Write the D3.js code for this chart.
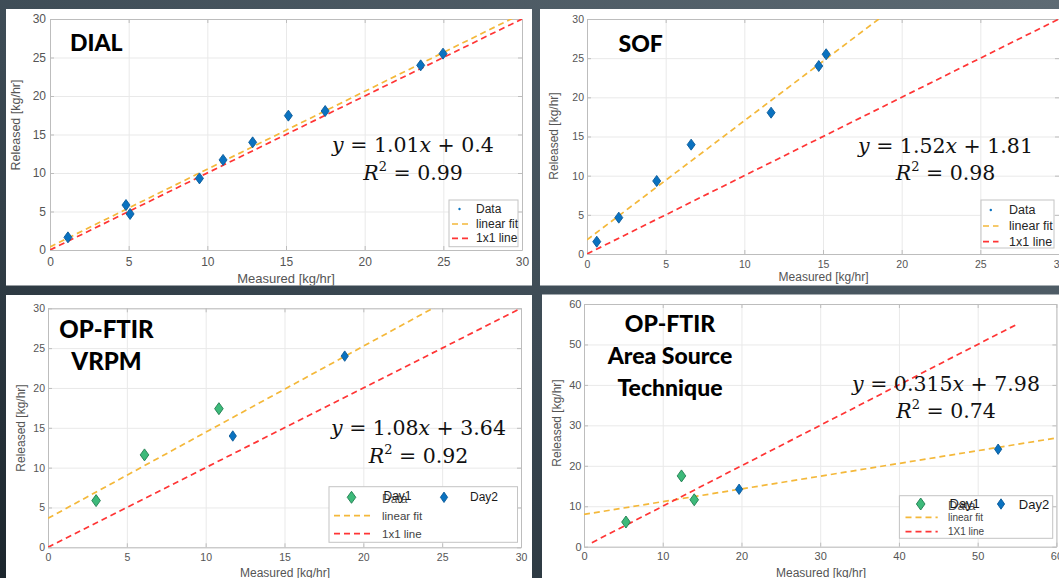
<!DOCTYPE html>
<html><head><meta charset="utf-8">
<script src="https://cdn.jsdelivr.net/npm/d3@7"></script>
<style>body{margin:0;overflow:hidden;background:#333}</style>
</head><body>
<svg id="c" width="1059" height="578"></svg>
<script>
// ---- tick labels ----
const ticks30 = [0, 5, 10, 15, 20, 25, 30];
const ticks60 = [0, 10, 20, 30, 40, 50, 60];

// ---- DIAL ----
const dialMeasured = [1.14, 4.83, 5.09, 9.5, 11.0, 12.88, 15.15, 17.49, 23.56, 24.98];
const dialReleased = [1.64, 5.84, 4.68, 9.3, 11.7, 13.98, 17.45, 18.05, 23.98, 25.5];
const dialFit = [1.01, 0.4];

// ---- SOF ----
const sofMeasured = [0.62, 2.02, 4.43, 6.62, 11.7, 14.73, 15.2];
const sofReleased = [1.57, 4.64, 9.32, 13.96, 18.04, 24.0, 25.5];
const sofFit = [1.52, 1.81];

// ---- OP-FTIR VRPM ----
const vrpmDay1Measured = [3.05, 6.12, 10.84];
const vrpmDay1Released = [5.86, 11.6, 17.4];
const vrpmDay2Measured = [11.72, 18.82];
const vrpmDay2Released = [13.97, 24.0];
const vrpmFit = [1.08, 3.64];

// ---- OP-FTIR Area Source ----
const areaDay1Measured = [5.33, 12.38, 14.0];
const areaDay1Released = [6.1, 17.5, 11.6];
const areaDay2Measured = [19.7, 52.6];
const areaDay2Released = [14.2, 24.1];
const areaFit = [0.315, 7.98];
const areaOneToOneRange = [1, 55];

const C = {
  blue: '#0a72c0', blueEdge: '#0b5a98',
  green: '#3dba7a', greenEdge: '#1f7d4f',
  orange: '#f4b83a', red: '#ff3535',
  grid: '#e9e9e9', axis: '#bdbdbd', tick: '#555', label: '#555'
};

const svg = d3.select('#c');
const defs = svg.append('defs');
const grad = defs.append('linearGradient').attr('id', 'bg')
  .attr('x1', '0').attr('y1', '1').attr('x2', '1').attr('y2', '0');
grad.append('stop').attr('offset', '0').attr('stop-color', '#1c262d');
grad.append('stop').attr('offset', '0.45').attr('stop-color', '#3c4a54');
grad.append('stop').attr('offset', '1').attr('stop-color', '#5e6b74');
svg.append('rect').attr('width', 1059).attr('height', 578).attr('fill', 'url(#bg)');

const SANS = 'Liberation Sans, Arial, sans-serif';
const SERIF = 'DejaVu Serif, serif';
const TITLE = 'Lato, Open Sans, sans-serif';

function diamondPath(w, h) {
  return `M0,${-h}L${w},0L0,${h}L${-w},0Z`;
}

const panels = [
  {
    id: 'dial', box: [6, 9, 532, 285.5], xr: [50, 522], yr: [250, 19],
    xdom: [0, 30], ydom: [0, 30], xt: ticks30, yt: ticks30,
    tickSize: 12, xpad: 7.4, ypad: 4,
    xlabel: [286, 283, 13], ylabel: [16, 125, 12.5],
    title: [{ t: 'DIAL', x: 70, y: 51, a: 'start' }], titleSize: 23,
    eq: { cx: 413, y1: 151.7, y2: 180, m: '1.01', b: '0.4', r2: '0.99' },
    series: [{ xs: dialMeasured, ys: dialReleased, fill: C.blue, edge: C.blueEdge, w: 4, h: 5.5 }],
    fit: dialFit, one: [0, 30], oneLabel: '1x1 line',
    legend: { type: 'simple', box: [449, 200, 518, 246.7], rows: [209, 224, 238.3], tx: 476, line: [452, 468], dot: 459.5, size: 12 }
  },
  {
    id: 'sof', box: [540, 9, 1059, 285.5], xr: [587, 1059], yr: [254, 19],
    xdom: [0, 30], ydom: [0, 30], xt: ticks30, yt: ticks30,
    tickSize: 10.5, xpad: 6.2, ypad: 3,
    xlabel: [823.6, 281, 12], ylabel: [554.4, 136, 12],
    title: [{ t: 'SOF', x: 618.5, y: 52.3, a: 'start' }], titleSize: 23,
    eq: { cx: 945.5, y1: 152.7, y2: 180, m: '1.52', b: '1.81', r2: '0.98' },
    series: [{ xs: sofMeasured, ys: sofReleased, fill: C.blue, edge: C.blueEdge, w: 4, h: 5.5 }],
    fit: sofFit, one: [0, 30], oneLabel: '1x1 line',
    legend: { type: 'simple', box: [981, 200, 1054, 248], rows: [210, 226, 241.7], tx: 1009, line: [983, 998.5], dot: 990.8, size: 12.5 }
  },
  {
    id: 'vrpm', box: [6, 295, 532, 578], xr: [48, 521], yr: [547.3, 308.3],
    xdom: [0, 30], ydom: [0, 30], xt: ticks30, yt: ticks30,
    tickSize: 10.5, xpad: 6.2, ypad: 3,
    xlabel: [285, 577, 12], ylabel: [21, 428, 12],
    title: [{ t: 'OP-FTIR', x: 106.5, y: 337.7, a: 'middle' }, { t: 'VRPM', x: 106.5, y: 370, a: 'middle' }], titleSize: 24,
    eq: { cx: 418.5, y1: 435, y2: 463.3, m: '1.08', b: '3.64', r2: '0.92' },
    series: [
      { xs: vrpmDay1Measured, ys: vrpmDay1Released, fill: C.green, edge: C.greenEdge, w: 4.3, h: 6 },
      { xs: vrpmDay2Measured, ys: vrpmDay2Released, fill: C.blue, edge: C.blueEdge, w: 3.6, h: 5.2 }
    ],
    fit: vrpmFit, one: [0, 30], oneLabel: '1x1 line',
    legend: { type: 'day', box: [329, 486.7, 517.5, 542.3], rows: [497.3, 515.7, 533.7], d1: 351.5, t1: 382, d2: 444, t2: 470, line: [334, 370], size1: 12, size: 11.5 }
  },
  {
    id: 'area', box: [542, 294.5, 1059, 578], xr: [584, 1056.4], yr: [546.7, 304],
    xdom: [0, 60], ydom: [0, 60], xt: ticks60, yt: ticks60,
    tickSize: 11, xpad: 5.2, ypad: 2.5,
    xlabel: [821, 577, 12], ylabel: [557, 423, 12],
    title: [{ t: 'OP-FTIR', x: 670, y: 331.7, a: 'middle' }, { t: 'Area Source', x: 670, y: 364, a: 'middle' }, { t: 'Technique', x: 670, y: 396, a: 'middle' }], titleSize: 23,
    eq: { cx: 946, y1: 391, y2: 418.3, m: '0.315', b: '7.98', r2: '0.74' },
    series: [
      { xs: areaDay1Measured, ys: areaDay1Released, fill: C.green, edge: C.greenEdge, w: 4.3, h: 6 },
      { xs: areaDay2Measured, ys: areaDay2Released, fill: C.blue, edge: C.blueEdge, w: 3.6, h: 5.2 }
    ],
    fit: areaFit, one: areaOneToOneRange, oneLabel: '1X1 line',
    legend: { type: 'day', box: [899.4, 495.7, 1052.7, 538.3], rows: [504, 517.3, 531.7], d1: 920.7, t1: 948, d2: 1001, t2: 1018.8, line: [905.5, 937.7], size1: 13, size: 10 }
  }
];

function drawPanel(p) {
  const [bx0, by0, bx1, by1] = p.box;
  defs.append('clipPath').attr('id', 'pc-' + p.id).append('rect')
    .attr('x', bx0).attr('y', by0).attr('width', bx1 - bx0).attr('height', by1 - by0);
  defs.append('clipPath').attr('id', 'plot-' + p.id).append('rect')
    .attr('x', p.xr[0]).attr('y', p.yr[1]).attr('width', p.xr[1] - p.xr[0]).attr('height', p.yr[0] - p.yr[1]);

  svg.append('rect').attr('x', bx0).attr('y', by0).attr('width', bx1 - bx0).attr('height', by1 - by0).attr('fill', '#fff');
  const g = svg.append('g').attr('clip-path', `url(#pc-${p.id})`);

  const x = d3.scaleLinear().domain(p.xdom).range(p.xr);
  const y = d3.scaleLinear().domain(p.ydom).range(p.yr);
  const H = p.yr[0] - p.yr[1], W = p.xr[1] - p.xr[0];

  // gridlines
  g.append('g').attr('transform', `translate(0,${p.yr[0]})`)
    .call(d3.axisBottom(x).tickValues(p.xt).tickSize(-H).tickFormat(''))
    .call(a => { a.select('.domain').remove(); a.selectAll('line').attr('stroke', C.grid); });
  g.append('g').attr('transform', `translate(${p.xr[0]},0)`)
    .call(d3.axisLeft(y).tickValues(p.yt).tickSize(-W).tickFormat(''))
    .call(a => { a.select('.domain').remove(); a.selectAll('line').attr('stroke', C.grid); });

  // axes with inward ticks & labels
  const styleAx = a => {
    a.select('.domain').attr('stroke', C.axis);
    a.selectAll('line').attr('stroke', C.axis);
    a.selectAll('text').attr('fill', C.tick).style('font-family', SANS).style('font-size', p.tickSize + 'px');
  };
  g.append('g').attr('transform', `translate(0,${p.yr[0]})`)
    .call(d3.axisBottom(x).tickValues(p.xt).tickSizeInner(-4).tickSizeOuter(0).tickPadding(p.xpad)).call(styleAx);
  g.append('g').attr('transform', `translate(${p.xr[0]},0)`)
    .call(d3.axisLeft(y).tickValues(p.yt).tickSizeInner(-4).tickSizeOuter(0).tickPadding(p.ypad)).call(styleAx);
  g.append('g').attr('transform', `translate(0,${p.yr[1]})`)
    .call(d3.axisTop(x).tickValues(p.xt).tickSizeInner(-4).tickSizeOuter(0).tickFormat('')).call(styleAx);
  g.append('g').attr('transform', `translate(${p.xr[1]},0)`)
    .call(d3.axisRight(y).tickValues(p.yt).tickSizeInner(-4).tickSizeOuter(0).tickFormat('')).call(styleAx);

  // axis labels
  g.append('text').attr('x', p.xlabel[0]).attr('y', p.xlabel[1]).attr('text-anchor', 'middle')
    .attr('fill', C.label).style('font-family', SANS).style('font-size', p.xlabel[2] + 'px').text('Measured [kg/hr]');
  g.append('text').attr('transform', `translate(${p.ylabel[0]},${p.ylabel[1]}) rotate(-90)`)
    .attr('text-anchor', 'middle').attr('dominant-baseline', 'central')
    .attr('fill', C.label).style('font-family', SANS).style('font-size', p.ylabel[2] + 'px').text('Released [kg/hr]');

  // lines
  const pl = g.append('g').attr('clip-path', `url(#plot-${p.id})`);
  const line = d3.line().x(d => x(d[0])).y(d => y(d[1]));
  const [m, b] = p.fit;
  pl.append('path').attr('d', line(p.xdom.map(v => [v, m * v + b])))
    .attr('fill', 'none').attr('stroke', C.orange).attr('stroke-width', 1.7).attr('stroke-dasharray', '6,4');
  pl.append('path').attr('d', line(p.one.map(v => [v, v])))
    .attr('fill', 'none').attr('stroke', C.red).attr('stroke-width', 1.7).attr('stroke-dasharray', '6,4');

  // markers
  p.series.forEach(s => {
    g.append('g').selectAll('path').data(s.xs.map((v, i) => [v, s.ys[i]])).join('path')
      .attr('transform', d => `translate(${x(d[0])},${y(d[1])})`)
      .attr('d', diamondPath(s.w, s.h)).attr('fill', s.fill).attr('stroke', s.edge).attr('stroke-width', 0.9);
  });

  // title
  p.title.forEach(t => {
    g.append('text').attr('x', t.x).attr('y', t.y).attr('text-anchor', t.a)
      .style('font-family', TITLE).style('font-weight', 900).style('font-size', p.titleSize + 'px')
      .attr('fill', '#000').text(t.t);
  });

  // equation
  const e1 = g.append('text').attr('x', p.eq.cx).attr('y', p.eq.y1).attr('text-anchor', 'middle')
    .style('font-family', SERIF).style('font-size', '20.5px').attr('fill', '#111');
  e1.append('tspan').style('font-style', 'italic').text('y');
  e1.append('tspan').text(' = ' + p.eq.m);
  e1.append('tspan').style('font-style', 'italic').text('x');
  e1.append('tspan').text(' + ' + p.eq.b);
  const e2 = g.append('text').attr('x', p.eq.cx).attr('y', p.eq.y2).attr('text-anchor', 'middle')
    .style('font-family', SERIF).style('font-size', '20.5px').attr('fill', '#111');
  e2.append('tspan').style('font-style', 'italic').text('R');
  e2.append('tspan').attr('dy', -9).style('font-size', '13px').text('2');
  e2.append('tspan').attr('dy', 9).text(' = ' + p.eq.r2);

  // legend
  const L = p.legend;
  const lg = g.append('g');
  lg.append('rect').attr('x', L.box[0]).attr('y', L.box[1]).attr('width', L.box[2] - L.box[0]).attr('height', L.box[3] - L.box[1])
    .attr('fill', '#fff').attr('stroke', '#c4c4c4');
  const ltxt = (tx, ty, s, size, col) => lg.append('text').attr('x', tx).attr('y', ty).attr('dominant-baseline', 'central')
    .style('font-family', SANS).style('font-size', size + 'px').attr('fill', col || '#262626').text(s);
  const lline = (yy, col) => lg.append('line').attr('x1', L.line[0]).attr('x2', L.line[1]).attr('y1', yy).attr('y2', yy)
    .attr('stroke', col).attr('stroke-width', 1.7).attr('stroke-dasharray', '6,4');
  if (L.type === 'simple') {
    lg.append('circle').attr('cx', L.dot).attr('cy', L.rows[0]).attr('r', 1.2).attr('fill', C.blue);
    ltxt(L.tx, L.rows[0], 'Data', L.size);
    lline(L.rows[1], C.orange); ltxt(L.tx, L.rows[1], 'linear fit', L.size);
    lline(L.rows[2], C.red); ltxt(L.tx, L.rows[2], p.oneLabel, L.size);
  } else {
    const s1 = p.series[0], s2 = p.series[1];
    lg.append('path').attr('transform', `translate(${L.d1},${L.rows[0]})`).attr('d', diamondPath(s1.w, s1.h))
      .attr('fill', s1.fill).attr('stroke', s1.edge).attr('stroke-width', 0.9);
    lg.append('path').attr('transform', `translate(${L.d2},${L.rows[0]})`).attr('d', diamondPath(s2.w, s2.h))
      .attr('fill', s2.fill).attr('stroke', s2.edge).attr('stroke-width', 0.9);
    ltxt(L.t1, L.rows[0] + 1.5, 'Data', L.size1, '#555');
    ltxt(L.t1 + 1.5, L.rows[0] - 1, 'Day1', L.size1, '#1a1a1a');
    ltxt(L.t2, L.rows[0], 'Day2', L.size1, '#1a1a1a');
    lline(L.rows[1], C.orange); ltxt(L.t1, L.rows[1], 'linear fit', L.size, '#444');
    lline(L.rows[2], C.red); ltxt(L.t1, L.rows[2], p.oneLabel, L.size, '#444');
  }
}

panels.forEach(drawPanel);
</script>
</body></html>
